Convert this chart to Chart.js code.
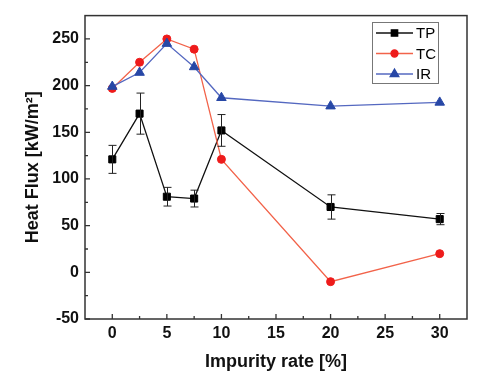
<!DOCTYPE html>
<html>
<head>
<meta charset="utf-8">
<script src="https://cdn.jsdelivr.net/npm/chart.js@4"></script>
<style>
html, body { margin: 0; padding: 0; background: #fff; }
#wrap { width: 500px; height: 385px; }
</style>
</head>
<body>
<div id="wrap"><canvas id="heatChart" width="500" height="385"></canvas></div>
<script>
// values
const impurity = [0, 2.5, 5, 7.5, 10, 20, 30];
const tpValues = [121, 170, 81, 79, 152, 70, 57];
const tpError = [15, 22, 10, 9, 17, 13, 6];
const tcValues = [197, 225, 250, 239, 121, -10, 20];
const irValues = [199, 214, 245, 220, 187, 178, 182];

const xTicks = [0, 5, 10, 15, 20, 25, 30];
const xMinor = [2.5, 7.5, 12.5, 17.5, 22.5, 27.5];
const yTicks = [-50, 0, 50, 100, 150, 200, 250];
const yMinor = [-25, 25, 75, 125, 175, 225];

const FONT = '"Liberation Sans", Arial, sans-serif';

const seriesStyle = {
    TP: { line: '#111111', point: '#000000', shape: 'rect', r: 5 },
    TC: { line: '#f2634a', point: '#ee1b1b', shape: 'circle', r: 4 },
    IR: { line: '#5468c0', point: '#2747a6', shape: 'triangle', r: 5.5 }
};

function toPoints(vals) {
    return impurity.map((x, i) => ({ x: x, y: vals[i] }));
}

function makeSet(label, vals, order) {
    const s = seriesStyle[label];
    return {
        label: label,
        data: toPoints(vals),
        borderColor: s.line,
        borderWidth: 1.3,
        pointStyle: s.shape,
        pointRadius: s.r,
        pointBackgroundColor: s.point,
        pointBorderColor: s.point,
        pointBorderWidth: 1,
        tension: 0,
        order: order
    };
}

// frame, inward ticks, error bars and the boxed legend
const extras = {
    id: 'extras',
    afterDatasetsDraw(chart) {
        const ctx = chart.ctx;
        const xs = chart.scales.x, ys = chart.scales.y;
        const a = chart.chartArea;

        // error bars for TP
        ctx.save();
        ctx.strokeStyle = '#222';
        ctx.lineWidth = 1;
        impurity.forEach((x, i) => {
            const px = Math.round(xs.getPixelForValue(x)) + 0.5;
            const top = ys.getPixelForValue(tpValues[i] + tpError[i]);
            const bot = ys.getPixelForValue(tpValues[i] - tpError[i]);
            ctx.beginPath();
            ctx.moveTo(px, top); ctx.lineTo(px, bot);
            ctx.moveTo(px - 4, top); ctx.lineTo(px + 4, top);
            ctx.moveTo(px - 4, bot); ctx.lineTo(px + 4, bot);
            ctx.stroke();
        });
        ctx.restore();

        // frame
        ctx.save();
        ctx.strokeStyle = '#333';
        ctx.lineWidth = 1.5;
        ctx.strokeRect(a.left, a.top, a.right - a.left, a.bottom - a.top);

        ctx.lineWidth = 1.3;
        ctx.beginPath();
        xTicks.forEach(v => {
            const px = xs.getPixelForValue(v);
            ctx.moveTo(px, a.bottom); ctx.lineTo(px, a.bottom - 5);
        });
        xMinor.forEach(v => {
            const px = xs.getPixelForValue(v);
            ctx.moveTo(px, a.bottom); ctx.lineTo(px, a.bottom - 3);
        });
        yTicks.forEach(v => {
            const py = ys.getPixelForValue(v);
            ctx.moveTo(a.left, py); ctx.lineTo(a.left + 5, py);
        });
        yMinor.forEach(v => {
            const py = ys.getPixelForValue(v);
            ctx.moveTo(a.left, py); ctx.lineTo(a.left + 3, py);
        });
        ctx.stroke();
        ctx.restore();

        // legend
        ctx.save();
        ctx.strokeStyle = '#777';
        ctx.lineWidth = 1;
        ctx.strokeRect(372.5, 22.5, 66, 61);
        ctx.font = '15px ' + FONT;
        ctx.textBaseline = 'middle';
        chart.data.datasets.slice().sort((p, q) => q.order - p.order).forEach((ds, i) => {
            const y = 33 + i * 20.5;
            ctx.strokeStyle = ds.borderColor;
            ctx.lineWidth = 1.3;
            ctx.beginPath();
            ctx.moveTo(376, y); ctx.lineTo(413, y);
            ctx.stroke();
            ctx.fillStyle = ds.pointBackgroundColor;
            ctx.strokeStyle = ds.pointBorderColor;
            Chart.helpers.drawPoint(ctx, { pointStyle: ds.pointStyle, radius: ds.pointRadius - 0.5, borderWidth: 1 }, 394.5, y);
            ctx.fillStyle = '#000';
            ctx.fillText(ds.label, 416, y + 1);
        });
        ctx.restore();
    }
};

const ctx = document.getElementById('heatChart').getContext('2d');
const heatChart = new Chart(ctx, {
    type: 'line',
    data: {
        datasets: [
            makeSet('TP', tpValues, 2),
            makeSet('TC', tcValues, 1),
            makeSet('IR', irValues, 0)
        ]
    },
    options: {
        responsive: false,
        animation: false,
        layout: { padding: { top: 11, right: 33, bottom: 0, left: 0 } },
        plugins: {
            legend: { display: false },
            tooltip: { enabled: false }
        },
        scales: {
            x: {
                type: 'linear',
                min: -2.5,
                max: 32.5,
                afterBuildTicks: scale => { scale.ticks = xTicks.map(v => ({ value: v })); },
                afterFit: scale => { scale.height = 66; },
                grid: { display: false, drawTicks: false },
                border: { display: false },
                ticks: {
                    padding: 5,
                    color: '#111',
                    font: { family: FONT, size: 16, weight: 'bold' }
                },
                title: {
                    display: true,
                    text: 'Impurity rate [%]',
                    color: '#111',
                    font: { family: FONT, size: 18, weight: 'bold' },
                    padding: { top: 0, bottom: 12 }
                }
            },
            y: {
                type: 'linear',
                min: -50,
                max: 275,
                afterBuildTicks: scale => { scale.ticks = yTicks.map(v => ({ value: v })); },
                afterFit: scale => { scale.width = 85; },
                grid: { display: false, drawTicks: false },
                border: { display: false },
                ticks: {
                    padding: 6,
                    color: '#111',
                    font: { family: FONT, size: 16, weight: 'bold' }
                },
                title: {
                    display: true,
                    text: 'Heat Flux [kW/m\u00B2]',
                    color: '#111',
                    font: { family: FONT, size: 18, weight: 'bold' },
                    padding: { top: 22, bottom: 0 }
                }
            }
        }
    },
    plugins: [extras]
});
</script>
</body>
</html>
